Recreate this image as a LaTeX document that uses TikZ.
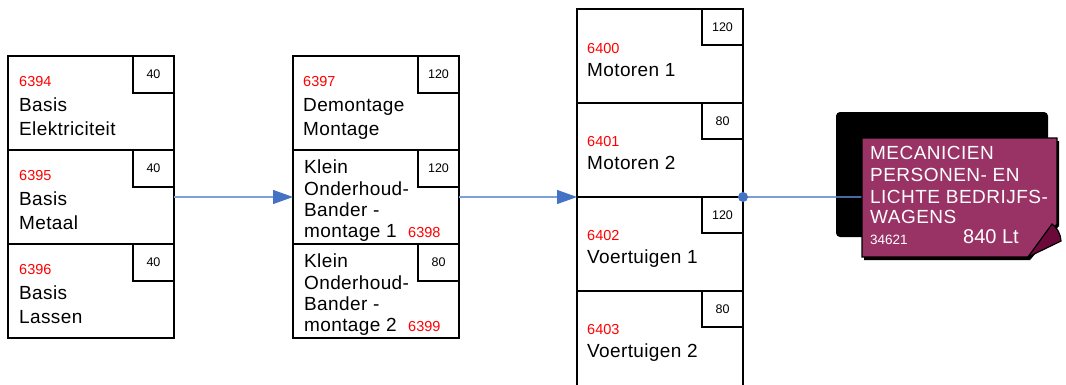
\documentclass[tikz,border=0pt]{standalone}
\usepackage{fontspec}
\setmainfont{Liberation Sans}
\usetikzlibrary{arrows.meta}
\definecolor{cardmag}{HTML}{993366}
\definecolor{flapcol}{HTML}{6B0A3A}
\definecolor{linkblue}{HTML}{7F9FD8}
\definecolor{headblue}{HTML}{4472C4}
\newcommand\mainf{\fontsize{19}{21}\selectfont\addfontfeature{LetterSpace=2}}
\newcommand\codef{\fontsize{14.5}{16}\selectfont}
\newcommand\hrsf{\fontsize{12.5}{14}\selectfont}
\newcommand\cardf{\fontsize{19}{21}\selectfont\addfontfeature{LetterSpace=2.5}}
\newcommand\cardsmf{\fontsize{13.5}{15}\selectfont}
\newcommand\cardbigf{\fontsize{20}{22}\selectfont}
\begin{document}
\begin{tikzpicture}[x=1pt,y=-1pt,
  modbox/.style={draw=black, line width=1.5pt, minimum width=166pt, minimum height=94pt, anchor=north west, inner sep=0pt, outer sep=0pt},
  hrsbox/.style={draw=black, line width=1.5pt, minimum width=41pt, minimum height=37pt, anchor=north east, inner sep=0pt, outer sep=0pt, font=\hrsf},
  code/.style={text=red, font=\codef, anchor=base west, inner sep=0pt},
  lbl/.style={font=\mainf, anchor=base west, inner sep=0pt},
  cardtxt/.style={text=white, font=\cardf, anchor=base west, inner sep=0pt},
  link/.style={draw=linkblue, line width=1.2pt},
  linkarrow/.style={link, -{Triangle[length=20pt,width=14pt,color=headblue]}}
]
\useasboundingbox (0,0) rectangle (1066,384);
% column 1
\node[modbox] (a1) at (8,56) {};
\node[modbox] (a2) at (8,150) {};
\node[modbox] (a3) at (8,244) {};
\node[hrsbox] (a1h) at (a1.north east) {40};
\node[hrsbox] (a2h) at (a2.north east) {40};
\node[hrsbox] (a3h) at (a3.north east) {40};
\node[code] (a1c) at (19,86) {6394};
\node[lbl] (a1t1) at (19,111) {Basis};
\node[lbl] (a1t2) at (19,135) {Elektriciteit};
\node[code] (a2c) at (19,180) {6395};
\node[lbl] (a2t1) at (19,205) {Basis};
\node[lbl] (a2t2) at (19,229) {Metaal};
\node[code] (a3c) at (19,274) {6396};
\node[lbl] (a3t1) at (19,299) {Basis};
\node[lbl] (a3t2) at (19,323) {Lassen};
% column 2
\node[modbox] (b1) at (293,56) {};
\node[modbox] (b2) at (293,150) {};
\node[modbox] (b3) at (293,244) {};
\node[hrsbox] (b1h) at (b1.north east) {120};
\node[hrsbox] (b2h) at (b2.north east) {120};
\node[hrsbox] (b3h) at (b3.north east) {80};
\node[code] (b1c) at (303,86) {6397};
\node[lbl] (b1t1) at (303,111) {Demontage};
\node[lbl] (b1t2) at (303,135) {Montage};
\node[lbl] (b2t1) at (304,173) {Klein};
\node[lbl] (b2t2) at (304,195) {Onderhoud-};
\node[lbl] (b2t3) at (304,216) {Bander -};
\node[lbl] (b2t4) at (304,237) {montage 1};
\node[code] (b2c) at (408,237) {6398};
\node[lbl] (b3t1) at (304,267) {Klein};
\node[lbl] (b3t2) at (304,289) {Onderhoud-};
\node[lbl] (b3t3) at (304,310) {Bander -};
\node[lbl] (b3t4) at (304,331) {montage 2};
\node[code] (b3c) at (408,331) {6399};
% column 3
\node[modbox] (c1) at (577,9) {};
\node[modbox] (c2) at (577,103) {};
\node[modbox] (c3) at (577,197) {};
\node[modbox, minimum height=96pt] (c4) at (577,291) {};
\node[hrsbox, minimum height=36pt] (c1h) at (c1.north east) {120};
\node[hrsbox, minimum height=36pt] (c2h) at (c2.north east) {80};
\node[hrsbox, minimum height=36pt] (c3h) at (c3.north east) {120};
\node[hrsbox, minimum height=36pt] (c4h) at (c4.north east) {80};
\node[code] (c1c) at (587,53) {6400};
\node[lbl] (c1t) at (587,76) {Motoren 1};
\node[code] (c2c) at (587,146) {6401};
\node[lbl] (c2t) at (587,169) {Motoren 2};
\node[code] (c3c) at (587,240) {6402};
\node[lbl] (c3t) at (587,263) {Voertuigen 1};
\node[code] (c4c) at (587,334) {6403};
\node[lbl] (c4t) at (587,357) {Voertuigen 2};
% connectors
\draw[linkarrow] (a2.east) -- (b2.west);
\draw[linkarrow] (b2.east) -- (c2.south west);
% card
\node[inner sep=0pt, outer sep=0pt, minimum width=195pt, minimum height=120pt, anchor=north west] (card) at (862,138) {};
\fill[black, rounded corners=4pt] (836,112) rectangle (1048,237);
\coordinate (dot) at (c2.south east);
\draw[link, draw=headblue!60!linkblue, opacity=0.8] (dot) -- (dot -| card.west);
\fill[headblue] (dot) circle (5pt);
\fill[black] (864,141) -- (1059,141) -- (1059,226) -- (1030,260) -- (864,260) -- cycle;
\filldraw[fill=cardmag, draw=black, line width=1.2pt] (862,138) -- (1057,138) -- (1057,224) -- (1028,257) -- (862,257) -- cycle;
\filldraw[fill=flapcol, draw=black, line width=1.2pt] (1028,257) -- (1052,224) .. controls (1057,227) and (1061,235) .. (1061,241) -- cycle;
\node[cardtxt] (k1) at (870,159) {MECANICIEN};
\node[cardtxt] (k2) at (870,181) {PERSONEN- EN};
\node[cardtxt] (k3) at (870,203) {LICHTE BEDRIJFS-};
\node[cardtxt] (k4) at (870,223) {WAGENS};
\node[cardtxt, font=\cardsmf] (k5) at (870,244) {34621};
\node[cardtxt, font=\cardbigf] (k6) at (963,243) {840 Lt};
\end{tikzpicture}
\end{document}
